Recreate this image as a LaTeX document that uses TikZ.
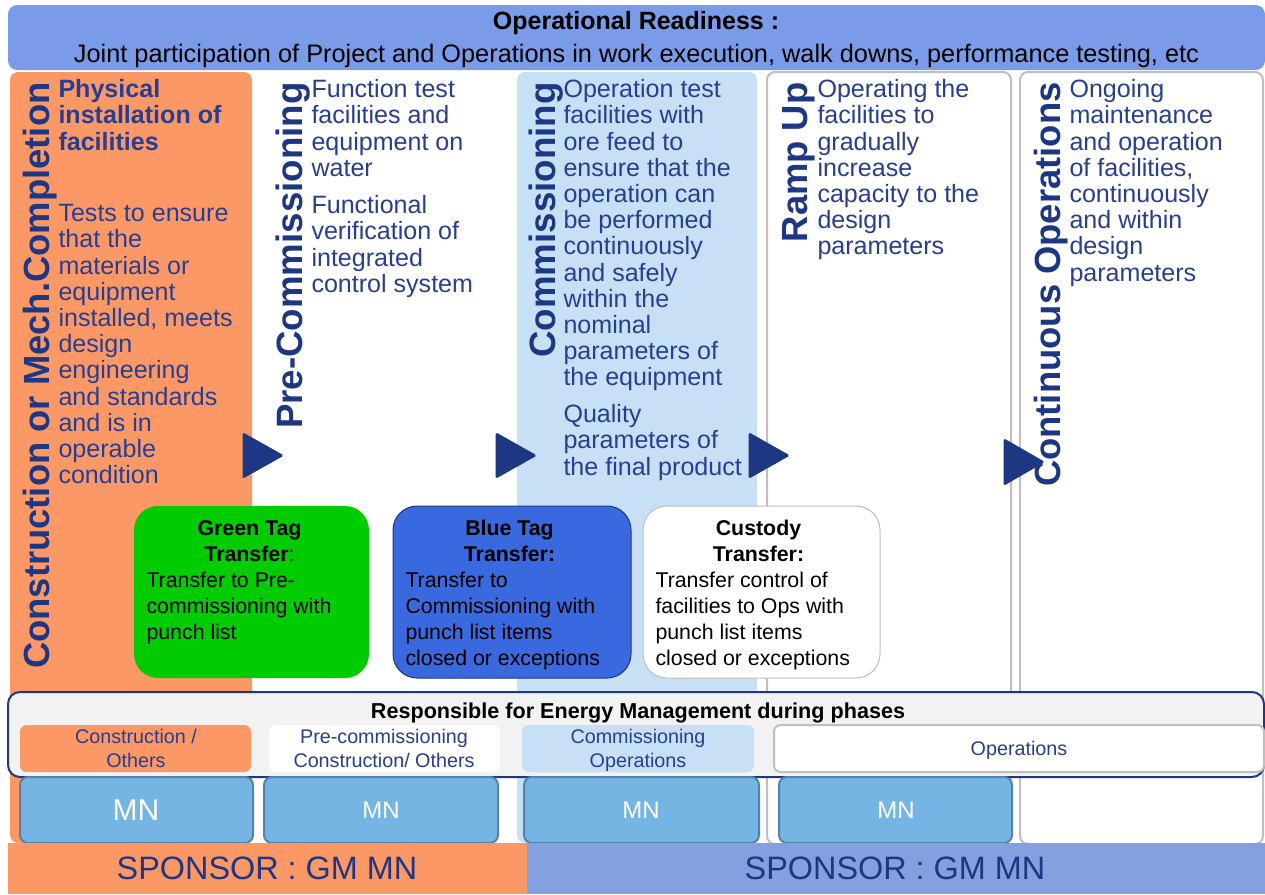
\documentclass[tikz,border=0pt]{standalone}
\usepackage{fontspec}
\setmainfont{Liberation Sans}

\definecolor{bannerblue}{RGB}{122,155,232}
\definecolor{consorange}{RGB}{252,152,102}
\definecolor{commblue}{RGB}{199,224,245}
\definecolor{titleblue}{RGB}{30,55,130}
\definecolor{bodyblue}{RGB}{40,62,145}
\definecolor{panelgray}{RGB}{191,191,191}
\definecolor{taggreen}{RGB}{0,204,0}
\definecolor{tagblue}{RGB}{58,104,222}
\definecolor{mnfill}{RGB}{117,181,228}
\definecolor{mnborder}{RGB}{84,130,170}
\definecolor{respgray}{RGB}{242,242,242}
\definecolor{sponsorblue}{RGB}{131,161,222}

\tikzset{every picture/.style={line width=0.75pt}}
\tikzset{
  phasetitle/.style={rotate=90, anchor=base east, inner sep=0pt, text=titleblue, font=\bfseries\fontsize{27.3}{30}\selectfont},
  phasebody/.style={anchor=north west, inner sep=0pt, align=left, text=bodyblue, font=\fontsize{18.8}{19.65}\selectfont},
  phasearrow/.style={fill=titleblue, draw=titleblue, rounded corners=1pt},
  tagbox/.style={rounded corners=18pt},
  tagtitle/.style={anchor=north, inner sep=0pt, align=center, font=\bfseries\fontsize{16}{19.5}\selectfont},
  tagbody/.style={anchor=north west, inner sep=0pt, align=left, font=\fontsize{16}{19.5}\selectfont},
  rolebox/.style={rounded corners=5pt},
  roletext/.style={inner sep=0pt, align=center, text=bodyblue, font=\fontsize{14.8}{18}\selectfont},
  mnbox/.style={fill=mnfill, draw=mnborder, line width=1.5pt, rounded corners=6pt},
  mntext/.style={inner sep=0pt, text=white, font=\fontsize{18}{20}\selectfont},
  sponsortext/.style={inner sep=0pt, text=titleblue, font=\fontsize{24.3}{28}\selectfont}
}

\begin{document}
\begin{tikzpicture}[x=0.75pt,y=0.75pt,yscale=-1,xscale=1]
\path[use as bounding box] (0,0) rectangle (1265,894);
\fill[white] (0,0) rectangle (1265,894);

%Shape: Banner
\fill[bannerblue, rounded corners=7pt] (8,5) rectangle (1265,70);
% Text Node
\draw (636,29) node [anchor=base][inner sep=0pt][font=\bfseries\fontsize{18.75}{22}\selectfont] (readiness) {Operational Readiness :};
% Text Node
\draw (636.5,62) node [anchor=base][inner sep=0pt][font=\fontsize{19}{22}\selectfont] (joint) {Joint participation of Project and Operations in work execution, walk downs, performance testing, etc};

%Shape: Phase panels
\fill[consorange, rounded corners=6pt] (10,72) rectangle (252,843);
\fill[commblue, rounded corners=6pt] (517,72) rectangle (757,843);
\draw[panelgray, line width=1.5pt, rounded corners=6pt] (767,72) rectangle (1011,844);
\draw[panelgray, line width=1.5pt, rounded corners=6pt] (1020,72) rectangle (1263,844);

%Shape: Arrows between phases
\draw[phasearrow] (243,433) -- (283,455.5) -- (243,478) -- cycle;
\draw[phasearrow] (496,433) -- (536,455.5) -- (496,478) -- cycle;
\draw[phasearrow] (749,433) -- (789,455.5) -- (749,478) -- cycle;
\draw[phasearrow] (1004,439) -- (1044,462) -- (1004,485) -- cycle;

% Phase titles
\draw (49,82) node [phasetitle] (construction) {Construction or Mech.Completion};
\draw (302,82) node [phasetitle, font=\bfseries\fontsize{27.5}{30}\selectfont] (precomm) {Pre-Commissioning};
\draw (555,82) node [phasetitle, font=\bfseries\fontsize{27.5}{30}\selectfont] (comm) {Commissioning};
\draw (807,82) node [phasetitle] (rampup) {Ramp Up};
\draw (1060,82) node [phasetitle] (contops) {Continuous Operations};

% Phase texts
\draw (58,79) node [phasebody, font=\bfseries\fontsize{18.8}{19.65}\selectfont] (physical) {Physical\\installation of\\facilities};
\draw (58,204) node [phasebody] (tests) {Tests to ensure\\that the\\materials or\\equipment\\installed, meets\\design\\engineering\\and standards\\and is in\\operable\\condition};
\draw (311,79) node [phasebody] (functest) {Function test\\facilities and\\equipment on\\water};
\draw (311,195) node [phasebody] (funcverif) {Functional\\verification of\\integrated\\control system};
\draw (563,79) node [phasebody] (opertest) {Operation test\\facilities with\\ore feed to\\ensure that the\\operation can\\be performed\\continuously\\and safely\\within the\\nominal\\parameters of\\the equipment};
\draw (563,404) node [phasebody] (quality) {Quality\\parameters of\\the final product};
\draw (817,79) node [phasebody] (operating) {Operating the\\facilities to\\gradually\\increase\\capacity to the\\design\\parameters};
\draw (1069,79) node [phasebody] (ongoing) {Ongoing\\maintenance\\and operation\\of facilities,\\continuously\\and within\\design\\parameters};

%Shape: Tag transfer boxes
\fill[taggreen, tagbox] (134,506) rectangle (369,678);
\draw[titleblue, fill=tagblue, tagbox] (393,506) rectangle (631,678);
\draw[panelgray, fill=white, tagbox] (643,506) rectangle (880,678);
% Text Node
\draw (249.5,520) node [tagtitle] (greentitle) {Green Tag\\Transfer{\mdseries :}};
\draw (146,572) node [tagbody] (greenbody) {Transfer to Pre-\\commissioning with\\punch list};
\draw (509.5,520) node [tagtitle] (bluetitle) {Blue Tag\\Transfer:};
\draw (405,572) node [tagbody] (bluebody) {Transfer to\\Commissioning with\\punch list items\\closed or exceptions};
\draw (758.5,520) node [tagtitle] (custodytitle) {Custody\\Transfer:};
\draw (655,572) node [tagbody] (custodybody) {Transfer control of\\facilities to Ops with\\punch list items\\closed or exceptions};

%Shape: Energy management box
\draw[titleblue, fill=respgray, line width=1.5pt, rounded corners=9pt] (8,692) rectangle (1264,777);
% Text Node
\draw (638,718) node [anchor=base][inner sep=0pt][font=\bfseries\fontsize{16.2}{20}\selectfont] (responsible) {Responsible for Energy Management during phases};
\fill[consorange, rolebox] (20,725) rectangle (251,772);
\fill[white, rolebox] (269,725) rectangle (500,772);
\fill[commblue, rolebox] (522,725) rectangle (754,772);
\draw[panelgray, fill=white, line width=1.5pt, rolebox] (774,725) rectangle (1264,772);
\draw (136,748) node [roletext] (roleconst) {Construction /\\Others};
\draw (384,748) node [roletext] (roleprecomm) {Pre-commissioning\\Construction/ Others};
\draw (638,750.5) node [roletext] (rolecomm) {Commissioning\\Operations};
\draw (1019,750) node [roletext] (roleops) {Operations};

%Shape: MN boxes
\draw[mnbox] (20,777) rectangle (253,843);
\draw[mnbox] (264,777) rectangle (498,843);
\draw[mnbox] (524,777) rectangle (759,843);
\draw[mnbox] (779,777) rectangle (1012,843);
\draw (136,810) node [mntext, font=\fontsize{22.5}{24}\selectfont] (mnconst) {MN};
\draw (381,810) node [mntext] (mnprecomm) {MN};
\draw (641,810) node [mntext] (mncomm) {MN};
\draw (896,810) node [mntext] (mnramp) {MN};

%Shape: Sponsor bars
\fill[consorange] (8,843) rectangle (527,894);
\fill[sponsorblue] (527,843) rectangle (1265,894);
\draw (267,868) node [sponsortext] (sponsorproj) {SPONSOR : GM MN};
\draw (895,868) node [sponsortext] (sponsorops) {SPONSOR : GM MN};

\end{tikzpicture}
\end{document}
